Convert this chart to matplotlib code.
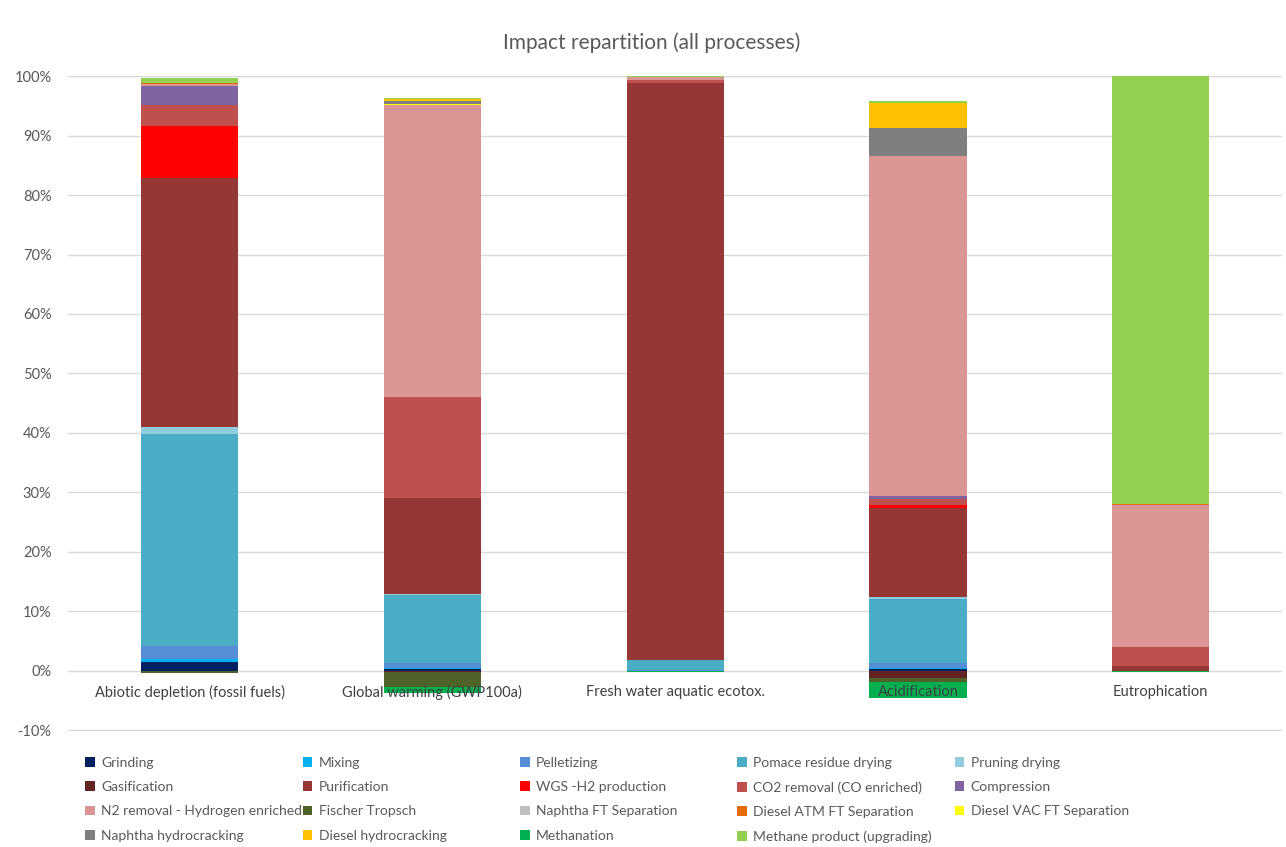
import numpy as np
import matplotlib
matplotlib.use("Agg")
import matplotlib.pyplot as plt
from matplotlib.patches import Patch
from matplotlib.ticker import PercentFormatter

plt.rcParams['font.family'] = ['Lato', 'DejaVu Sans']
plt.rcParams['axes.unicode_minus'] = False

categories = ["Abiotic depletion (fossil fuels)", "Global warming (GWP100a)",
              "Fresh water aquatic ecotox.", "Acidification", "Eutrophication"]

processes = ["Grinding", "Mixing", "Pelletizing", "Pomace residue drying", "Pruning drying",
             "Gasification", "Purification", "WGS -H2 production", "CO2 removal (CO enriched)", "Compression",
             "N2 removal - Hydrogen enriched", "Fischer Tropsch", "Naphtha FT Separation",
             "Diesel ATM FT Separation", "Diesel VAC FT Separation",
             "Naphtha hydrocracking", "Diesel hydrocracking", "Methanation", "Methane product (upgrading)"]

colours = ["#002060", "#00B0F0", "#558ED5", "#4BACC6", "#93CDDD",
           "#632523", "#953735", "#FF0000", "#C0504D", "#8064A2",
           "#D99694", "#4F6228", "#BFBFBF", "#E46C0A", "#FFFF00",
           "#7F7F7F", "#FFC000", "#00B050", "#92D050"]

# share of each process in each impact category
grinding      = [0.015, 0.003, 0.000, 0.003, 0.000]
mixing        = [0.005, 0.001, 0.000, 0.001, 0.000]
pelletizing   = [0.022, 0.009, 0.001, 0.008, 0.000]
pomace        = [0.356, 0.114, 0.017, 0.109, 0.000]
pruning       = [0.012, 0.002, 0.000, 0.003, 0.000]
gasification  = [0.000, -0.003, 0.000, -0.013, 0.000]
purification  = [0.419, 0.162, 0.970, 0.149, 0.007]
wgs           = [0.088, 0.000, 0.000, 0.005, 0.000]
co2_removal   = [0.035, 0.170, 0.005, 0.011, 0.032]
compression   = [0.032, 0.000, 0.000, 0.004, 0.000]
n2_removal    = [0.003, 0.490, 0.005, 0.573, 0.239]
fischer       = [-0.004, -0.025, 0.000, -0.006, -0.001]
naphtha_ft    = [0.000, 0.000, 0.000, 0.000, 0.000]
diesel_atm    = [0.002, 0.000, 0.000, 0.000, 0.002]
diesel_vac    = [0.000, 0.002, 0.000, 0.000, 0.000]
naphtha_hc    = [0.000, 0.006, 0.000, 0.047, 0.000]
diesel_hc     = [0.000, 0.002, 0.000, 0.042, 0.000]
methanation   = [0.000, -0.009, -0.002, -0.027, -0.001]
methane_prod  = [0.008, 0.002, 0.003, 0.003, 0.720]

series = [grinding, mixing, pelletizing, pomace, pruning,
          gasification, purification, wgs, co2_removal, compression,
          n2_removal, fischer, naphtha_ft, diesel_atm, diesel_vac,
          naphtha_hc, diesel_hc, methanation, methane_prod]

grey = "#595959"
fig = plt.figure(figsize=(12.86, 8.47), dpi=100)
ax = fig.add_axes([0.053, 0.137, 0.944, 0.773])

x = np.arange(len(categories))
pos_bottom = np.zeros(len(categories))
neg_bottom = np.zeros(len(categories))
for vals, col in zip(series, colours):
    v = np.array(vals)
    bottom = np.where(v >= 0, pos_bottom, neg_bottom)
    ax.bar(x, v, 0.4, bottom=bottom, color=col, linewidth=0, zorder=3)
    pos_bottom += np.where(v > 0, v, 0)
    neg_bottom += np.where(v < 0, v, 0)

ax.set_xlim(-0.5, len(categories) - 0.5)
ax.set_ylim(-0.1015, 1.0)
ax.set_yticks(np.arange(-0.1, 1.01, 0.1))
ax.yaxis.set_major_formatter(PercentFormatter(1.0, decimals=0))
ax.tick_params(axis="y", length=0, labelsize=10.5, labelcolor=grey, pad=12)
ax.set_xticks([])
ax.grid(axis="y", color="#D9D9D9", linewidth=1, zorder=0)
for s in ax.spines.values():
    s.set_visible(False)

# category names sit just under the zero line
for i, name in enumerate(categories):
    ax.annotate(name, (i, 0), xytext=(0, -10), textcoords="offset points",
                ha="center", va="top", fontsize=10.5, color="#404040", zorder=5)

fig.text(0.507, 0.95, "Impact repartition (all processes)", ha="center", va="center",
         fontsize=15, color=grey)

handles = [Patch(facecolor=c, edgecolor="none") for c in colours]
for c in range(5):
    idx = list(range(c, len(processes), 5))
    leg = fig.legend([handles[i] for i in idx], [processes[i] for i in idx],
                     loc="upper left", bbox_to_anchor=(0.062 + c * 0.169, 0.113),
                     frameon=False, fontsize=10, handlelength=0.7, handleheight=0.7,
                     handletextpad=0.45, labelspacing=0.88, borderaxespad=0)
    for t in leg.get_texts():
        t.set_color(grey)

fig.savefig("out.png", dpi=100, facecolor="white")
